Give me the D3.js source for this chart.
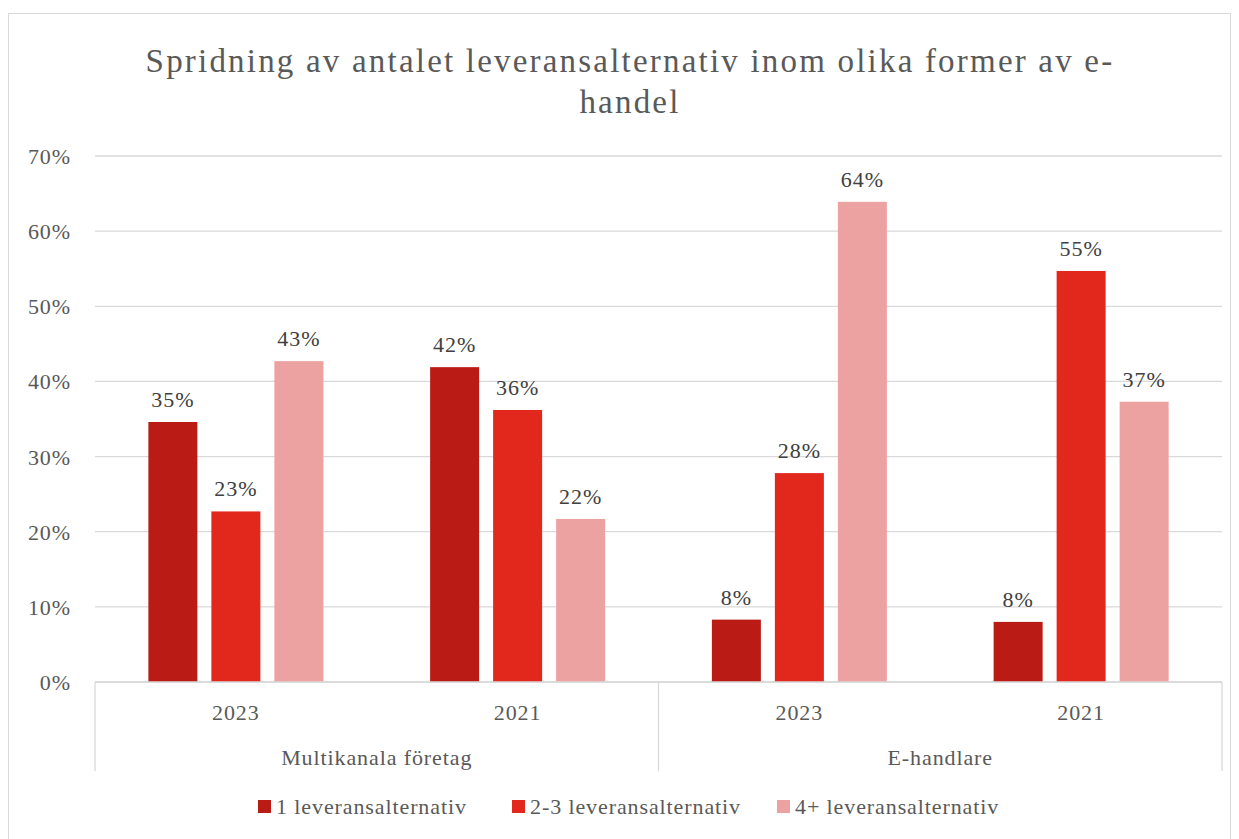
<!DOCTYPE html>
<html>
<head>
<meta charset="utf-8">
<script src="https://cdn.jsdelivr.net/npm/d3@7"></script>
<style>
  body { margin: 0; background: #fff; }
  text { font-family: "Liberation Serif", "DejaVu Serif", serif; letter-spacing: 0.9px; }
</style>
</head>
<body>
<div id="chart"></div>
<script>
// data
var groups = ["Multikanala företag", "E-handlare"];
var years = ["2023", "2021"];
var series = ["1 leveransalternativ", "2-3 leveransalternativ", "4+ leveransalternativ"];
var colors = ["#BA1C15", "#E2271D", "#EDA2A2"];
var multikanala = [[34.6, 22.7, 42.7], [41.9, 36.2, 21.7]];
var ehandlare = [[8.3, 27.8, 63.9], [8.0, 54.7, 37.3]];
var labels = [["35%", "23%", "43%"], ["42%", "36%", "22%"], ["8%", "28%", "64%"], ["8%", "55%", "37%"]];
var yTicks = [0, 10, 20, 30, 40, 50, 60, 70];
var titleLines = ["Spridning av antalet leveransalternativ inom olika former av e-", "handel"];

var width = 1239, height = 839;
var plotLeft = 95, plotRight = 1222, plotTop = 156, plotBottom = 682;

var svg = d3.select('#chart')
  .append('svg')
  .attr('width', width)
  .attr('height', height)

// outer frame
svg.append('rect')
  .attr('x', 8.5).attr('y', 13.5)
  .attr('width', 1222).attr('height', 840)
  .attr('fill', 'none')
  .attr('stroke', '#d9d9d9')

// build rows
var rows = [];
[multikanala, ehandlare].forEach(function (g, gi) {
  g.forEach(function (vals, yi) {
    rows.push({ key: gi + "-" + yi, group: groups[gi], year: years[yi], values: vals, labels: labels[gi * 2 + yi] });
  });
});

var x0 = d3.scaleBand()
  .domain(rows.map(d => d.key))
  .range([plotLeft, plotRight])

var x1 = d3.scaleBand()
  .domain(series)
  .range([0, 175])
  .paddingInner(14 / 63)

var y = d3.scaleLinear()
  .domain([0, 70])
  .range([plotBottom, plotTop])

// gridlines
svg.append('g')
  .selectAll('line')
  .data(yTicks)
  .join('line')
  .attr('x1', plotLeft).attr('x2', plotRight)
  .attr('y1', d => y(d)).attr('y2', d => y(d))
  .attr('stroke', '#d9d9d9')
  .attr('stroke-width', 1.3)

// y labels
svg.append('g')
  .selectAll('text')
  .data(yTicks)
  .join('text')
  .attr('x', 71)
  .attr('y', d => y(d) + 8)
  .attr('text-anchor', 'end')
  .attr('fill', '#595959')
  .style('font-size', '22px')
  .text(d => d + "%")

// bars
var rowG = svg.append('g')
  .selectAll('g')
  .data(rows)
  .join('g')
  .attr('transform', d => 'translate(' + (x0(d.key) + x0.bandwidth() / 2 - 87.5) + ',0)')

rowG.selectAll('rect')
  .data(d => d.values.map((v, i) => ({ v: v, s: series[i], i: i })))
  .join('rect')
  .attr('x', d => x1(d.s))
  .attr('width', x1.bandwidth())
  .attr('y', d => y(d.v))
  .attr('height', d => y(0) - y(d.v))
  .attr('fill', d => colors[d.i])

rowG.selectAll('text')
  .data(d => d.values.map((v, i) => ({ v: v, s: series[i], t: d.labels[i] })))
  .join('text')
  .attr('x', d => x1(d.s) + x1.bandwidth() / 2)
  .attr('y', d => y(d.v) - 15)
  .attr('text-anchor', 'middle')
  .attr('fill', '#404040')
  .style('font-size', '22px')
  .text(d => d.t)

// category axis
var axisG = svg.append('g');
axisG.append('line')
  .attr('x1', plotLeft).attr('x2', plotRight)
  .attr('y1', plotBottom).attr('y2', plotBottom)
  .attr('stroke', '#d9d9d9').attr('stroke-width', 1.3)

var mid = x0(rows[2].key);
[plotLeft, mid, plotRight].forEach(function (xv) {
  axisG.append('line')
    .attr('x1', xv).attr('x2', xv)
    .attr('y1', plotBottom).attr('y2', 771)
    .attr('stroke', '#d9d9d9').attr('stroke-width', 1.3)
});

axisG.selectAll('.yr')
  .data(rows)
  .join('text')
  .attr('class', 'yr')
  .attr('x', d => x0(d.key) + x0.bandwidth() / 2)
  .attr('y', 720)
  .attr('text-anchor', 'middle')
  .attr('fill', '#595959')
  .style('font-size', '22px')
  .text(d => d.year)

axisG.selectAll('.grp')
  .data(groups)
  .join('text')
  .attr('class', 'grp')
  .attr('x', (d, i) => i == 0 ? (plotLeft + mid) / 2 : (mid + plotRight) / 2)
  .attr('y', 765)
  .attr('text-anchor', 'middle')
  .attr('fill', '#595959')
  .style('font-size', '22px')
  .text(d => d)

// title
svg.append('g')
  .selectAll('text')
  .data(titleLines)
  .join('text')
  .attr('x', 630)
  .attr('y', (d, i) => 72 + i * 41)
  .attr('text-anchor', 'middle')
  .attr('fill', '#595959')
  .style('font-size', '33px')
  .style('letter-spacing', '2.2px')
  .text(d => d)

// legend
var legendX = [258, 512, 777];
var legend = svg.append('g')
  .selectAll('g')
  .data(series)
  .join('g')
  .attr('transform', (d, i) => 'translate(' + legendX[i] + ',800)')

legend.append('rect')
  .attr('width', 13).attr('height', 13)
  .attr('fill', (d, i) => colors[i])

legend.append('text')
  .attr('x', 18)
  .attr('y', 14)
  .attr('fill', '#595959')
  .style('font-size', '22px')
  .text(d => d)
</script>
</body>
</html>
